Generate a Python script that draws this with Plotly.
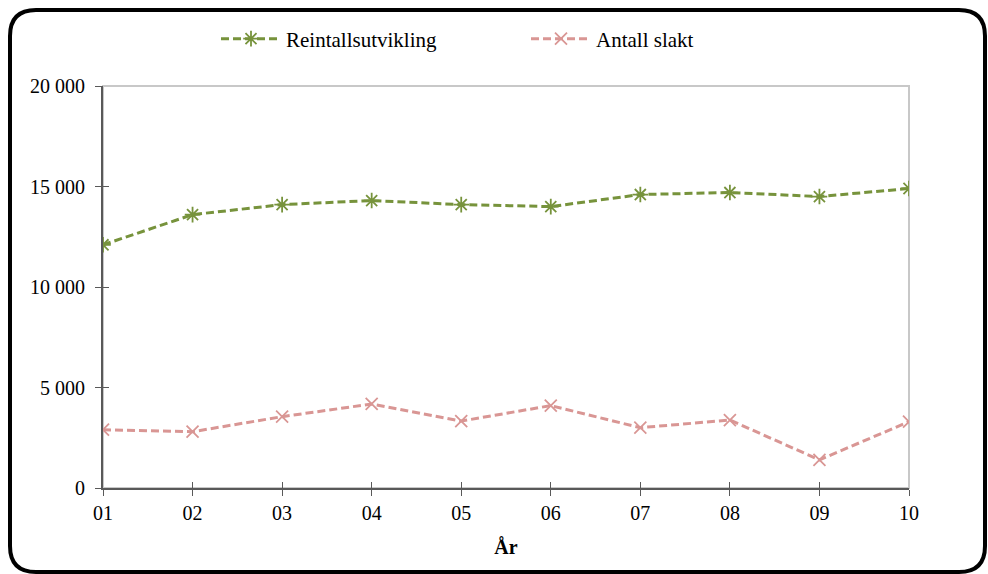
import plotly.graph_objects as go

years = ["01", "02", "03", "04", "05", "06", "07", "08", "09", "10"]
reintall = [12100, 13600, 14100, 14300, 14100, 14000, 14600, 14700, 14500, 14900]
slakt = [2900, 2800, 3550, 4180, 3330, 4100, 3000, 3380, 1400, 3300]
y_ticks = [0, 5000, 10000, 15000, 20000]

GREEN = "#77933C"
RED = "#D99694"
FONT = "Liberation Serif, Times New Roman, serif"

W, H = 988, 574
L, R, T, B = 103, 79, 86, 86
PW, PH = W - L - R, H - T - B


def px(x):
    return (x - L) / PW


def py(y):
    return (H - B - y) / PH


fig = go.Figure()
fig.add_trace(go.Scatter(
    x=years, y=reintall, name="Reintallsutvikling", mode="lines+markers",
    line=dict(color=GREEN, width=3, dash="8px,4px"),
    marker=dict(symbol="asterisk-open", size=13, color=GREEN, line=dict(color=GREEN, width=1.8)),
))
fig.add_trace(go.Scatter(
    x=years, y=slakt, name="Antall slakt", mode="lines+markers",
    line=dict(color=RED, width=3, dash="8px,4px"),
    marker=dict(symbol="x-thin-open", size=12, color=RED, line=dict(color=RED, width=1.8)),
))

# rounded outer frame
x0, x1, y0, y1, r = 10, 985, 10, 572, 26
path = (f"M {px(x0+r)},{py(y0)} L {px(x1-r)},{py(y0)} Q {px(x1)},{py(y0)} {px(x1)},{py(y0+r)} "
        f"L {px(x1)},{py(y1-r)} Q {px(x1)},{py(y1)} {px(x1-r)},{py(y1)} "
        f"L {px(x0+r)},{py(y1)} Q {px(x0)},{py(y1)} {px(x0)},{py(y1-r)} "
        f"L {px(x0)},{py(y0+r)} Q {px(x0)},{py(y0)} {px(x0+r)},{py(y0)} Z")

fig.update_layout(
    width=W, height=H, autosize=False,
    margin=dict(l=L, r=R, t=T, b=B, pad=0),
    paper_bgcolor="white", plot_bgcolor="white",
    separators=". ",
    font=dict(family=FONT, size=20, color="black"),
    showlegend=True,
    legend=dict(orientation="h", x=px(216), xanchor="left", y=py(39), yanchor="middle",
                font=dict(size=21, family=FONT), entrywidth=235, entrywidthmode="pixels",
                bgcolor="rgba(0,0,0,0)", itemwidth=60),
    xaxis=dict(type="category", range=[0, len(years) - 1], showgrid=False, zeroline=False,
               showline=True, linecolor="#595959", linewidth=2,
               ticks="outside", ticklen=6, tickcolor="#595959", tickwidth=1.2,
               tickfont=dict(size=20, family=FONT),
               title=dict(text="<b>År</b>", font=dict(size=20, family=FONT), standoff=17)),
    yaxis=dict(range=[0, 20000], tickvals=y_ticks, tickformat=",d", showgrid=False, zeroline=False,
               showline=True, linecolor="#595959", linewidth=2,
               ticks="outside", ticklen=6, tickcolor="#595959", tickwidth=1.2,
               tickfont=dict(size=20, family=FONT), ticklabelstandoff=6),
    xaxis2=dict(type="category", overlaying="x", range=[0, len(years) - 1], showgrid=False,
                zeroline=False, showline=False, ticks="inside", ticklen=6, tickcolor="#595959",
                tickwidth=1.2, showticklabels=False, side="bottom", matches="x"),
    yaxis2=dict(overlaying="y", range=[0, 20000], tickvals=y_ticks, showgrid=False, zeroline=False,
                showline=False, ticks="inside", ticklen=6, tickcolor="#595959", tickwidth=1.2,
                showticklabels=False, side="left"),
    shapes=[
        dict(type="rect", xref="paper", yref="paper", x0=0, x1=1, y0=0, y1=1,
             line=dict(color="#C8C8C8", width=2), layer="below"),
        dict(type="path", xref="paper", yref="paper", path=path,
             line=dict(color="black", width=4), layer="above"),
    ],
)
fig.add_trace(go.Scatter(x=years, y=[None] * len(years), xaxis="x2", yaxis="y2",
                         showlegend=False, hoverinfo="skip", mode="lines"))

fig.write_html("out.html", config={"displayModeBar": False},
               post_script="document.body.style.margin='0';")
